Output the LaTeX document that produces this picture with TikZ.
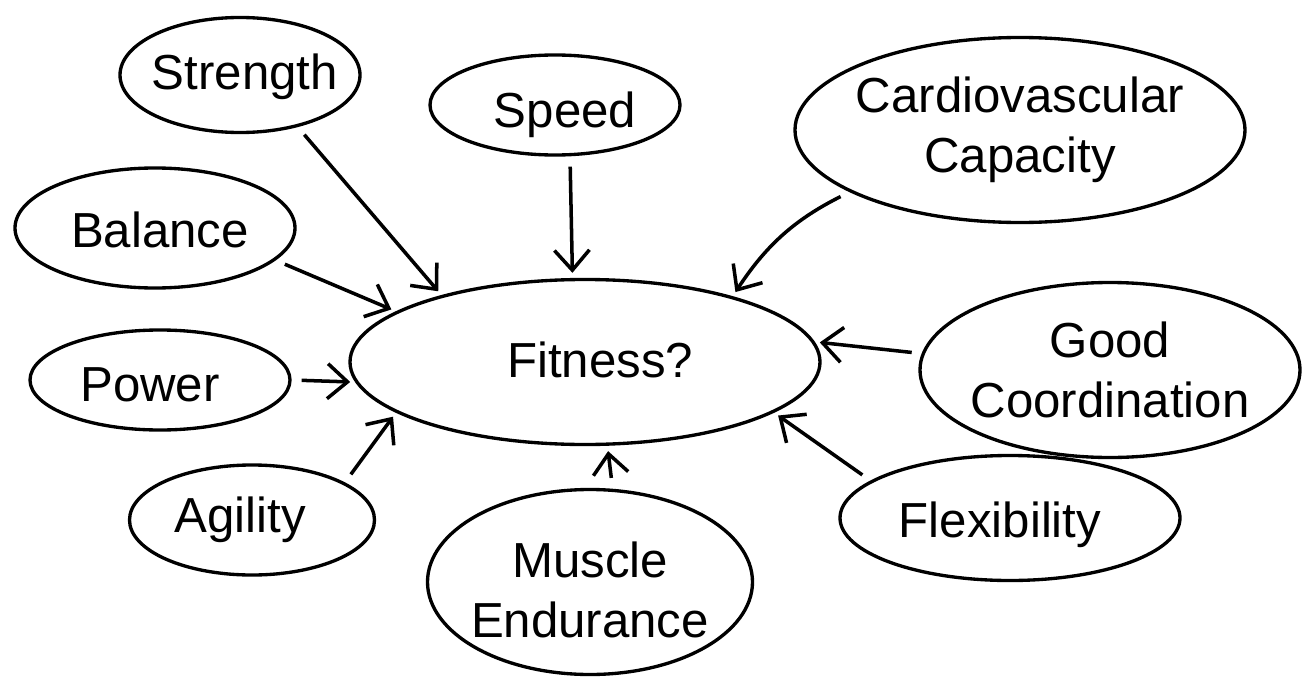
\documentclass[tikz,border=0pt]{standalone}
\usepackage{fontspec}
\setmainfont{Liberation Sans}
\usetikzlibrary{shapes.geometric,arrows.meta}

\begin{document}
\begin{tikzpicture}[
    bubble/.style={ellipse, draw, line width=1.9pt, inner sep=0pt},
    word/.style={font=\fontsize{28}{34}\selectfont, align=center},
    arr/.style={draw, line width=2pt, -{Straight Barb[length=4mm,width=7mm]}, shorten <=2mm, shorten >=1mm}
]

\fill[white] (0,0) rectangle (26.12,13.64);
\useasboundingbox (0,0) rectangle (26.12,13.64);

% Define bubbles
\node[bubble, minimum width=4.8cm, minimum height=2.3cm] (strength) at (4.80,12.14) {};
\node[bubble, minimum width=5.0cm, minimum height=2.0cm] (speed) at (11.10,11.54) {};
\node[bubble, minimum width=9.0cm, minimum height=3.7cm] (cardio) at (20.40,11.04) {};
\node[bubble, minimum width=5.6cm, minimum height=2.4cm] (balance) at (3.10,9.08) {};
\node[bubble, minimum width=9.4cm, minimum height=3.3cm] (fitness) at (11.70,6.40) {};
\node[bubble, minimum width=7.6cm, minimum height=3.5cm] (coord) at (22.20,6.24) {};
\node[bubble, minimum width=5.2cm, minimum height=2.0cm] (power) at (3.20,6.04) {};
\node[bubble, minimum width=4.9cm, minimum height=2.2cm] (agility) at (5.04,3.24) {};
\node[bubble, minimum width=6.5cm, minimum height=3.7cm] (muscle) at (11.80,2.00) {};
\node[bubble, minimum width=6.8cm, minimum height=2.5cm] (flex) at (20.20,3.28) {};

% Add bubble texts
\node[word] (strengthtxt) at (4.90,12.10) {Strength};
\node[word] (speedtxt) at (11.30,11.34) {Speed};
\node[word] (cardiotxt) at (20.40,11.04) {Cardiovascular\\Capacity};
\node[word] (balancetxt) at (3.20,9.04) {Balance};
\node[word] (fitnesstxt) at (12.00,6.44) {Fitness?};
\node[word] (coordtxt) at (22.20,6.24) {Good\\Coordination};
\node[word] (powertxt) at (3.00,5.94) {Power};
\node[word] (agilitytxt) at (4.80,3.24) {Agility};
\node[word] (muscletxt) at (11.80,1.84) {Muscle\\Endurance};
\node[word] (flextxt) at (20.00,3.14) {Flexibility};

% Draw arrows into fitness
\draw[arr] (strength.-42) -- (fitness.155);
\draw[arr] ([xshift=0.3cm]speed.south) -- ([xshift=-0.25cm]fitness.north);
\draw[arr] (cardio.200) to[bend right=15] (fitness.24);
\draw[arr] (balance.-15) -- (fitness.165);
\draw[arr] (power.east) -- (fitness.185);
\draw[arr] (agility.22) -- (fitness.195);
\draw[arr] ([xshift=0.45cm]muscle.north) -- ([xshift=0.45cm]fitness.south);
\draw[arr] (coord.175) -- (fitness.5);
\draw[arr] (flex.165) -- (fitness.-15);

\end{tikzpicture}
\end{document}
